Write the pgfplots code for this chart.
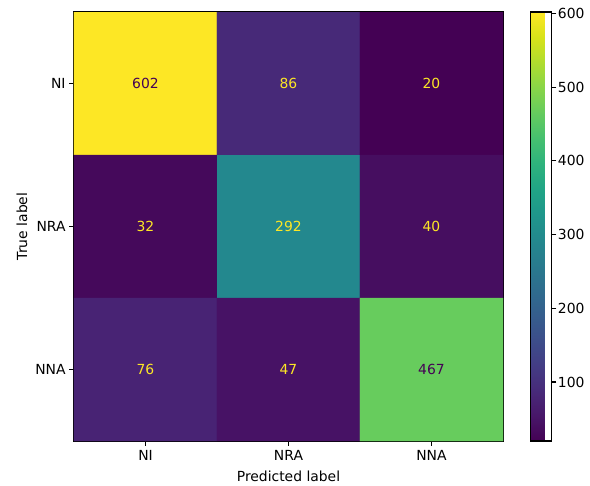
\documentclass[border=0pt]{standalone}
\usepackage{pgfplots}
\pgfplotsset{compat=1.18}
\usepackage{pgfplotstable}
\usepackage{fontspec}
\setmainfont{DejaVu Sans}
\definecolor{vyel}{HTML}{FDE725}
\definecolor{vpur}{HTML}{440154}
\pgfplotstableread{
x y c
0 0 602
1 0 86
2 0 20
0 1 32
1 1 292
2 1 40
0 2 76
1 2 47
2 2 467
}\cm
\pgfplotstableread{
x y t
1 0 86
2 0 20
0 1 32
1 1 292
2 1 40
0 2 76
1 2 47
}\lighttxt
\pgfplotstableread{
x y t
0 0 602
2 2 467
}\darktxt
\begin{document}
\begin{tikzpicture}[font=\fontsize{13.9bp}{16bp}\selectfont]
\begin{axis}[
  at={(0,0)}, anchor=south west,
  width=429bp, height=429bp, scale only axis,
  xmin=-0.5, xmax=2.5, ymin=-0.5, ymax=2.5, y dir=reverse,
  xtick={0,1,2}, xticklabels={NI,NRA,NNA},
  ytick={0,1,2}, yticklabels={NI,NRA,NNA},
  xtick pos=bottom, ytick pos=left,
  tick align=outside, major tick length=4.9bp,
  xtick style={line width=1.1bp, black}, ytick style={line width=1.1bp, black},
  axis line style={line width=1.1bp},
  tick label style={font=\fontsize{13.9bp}{16bp}\selectfont},
  label style={font=\fontsize{13.9bp}{16bp}\selectfont},
  xticklabel style={yshift=-1bp},
  xlabel={Predicted label}, ylabel={True label},
  xlabel style={at={(axis description cs:0.5,-0.0816)}, anchor=center},
  ylabel style={at={(axis description cs:-0.1212,0.5)}, anchor=center},
  colormap/viridis,
  point meta min=20, point meta max=602,
  colorbar,
  colorbar style={
    at={(parent axis.north east)}, anchor=north west, xshift=19bp,
    width=21bp, height=429bp,
    ytick={100,200,300,400,500,600},
    ymin=20, ymax=602,
    ytick pos=right, yticklabel pos=right,
    tick align=outside, major tick length=4.9bp,
    ytick style={line width=1.1bp, black},
    axis line style={line width=1.1bp},
    yticklabel style={font=\fontsize{13.9bp}{16bp}\selectfont, xshift=-2bp, /pgf/number format/assume math mode=true},
  },
  /pgf/number format/assume math mode=true,
]
\addplot[matrix plot*, mesh/cols=3, point meta=explicit] table[x=x, y=y, meta=c] {\cm};
\addplot[draw=none, nodes near coords, point meta=explicit symbolic,
  nodes near coords align={center},
  every node near coord/.append style={text=vyel, font=\fontsize{13.9bp}{16bp}\selectfont}]
  table[x=x, y=y, meta=t] {\lighttxt};
\addplot[draw=none, nodes near coords, point meta=explicit symbolic,
  nodes near coords align={center},
  every node near coord/.append style={text=vpur, font=\fontsize{13.9bp}{16bp}\selectfont}]
  table[x=x, y=y, meta=t] {\darktxt};
\end{axis}
\path (-74bp,-45bp) rectangle (516bp,441bp);
\end{tikzpicture}
\end{document}
